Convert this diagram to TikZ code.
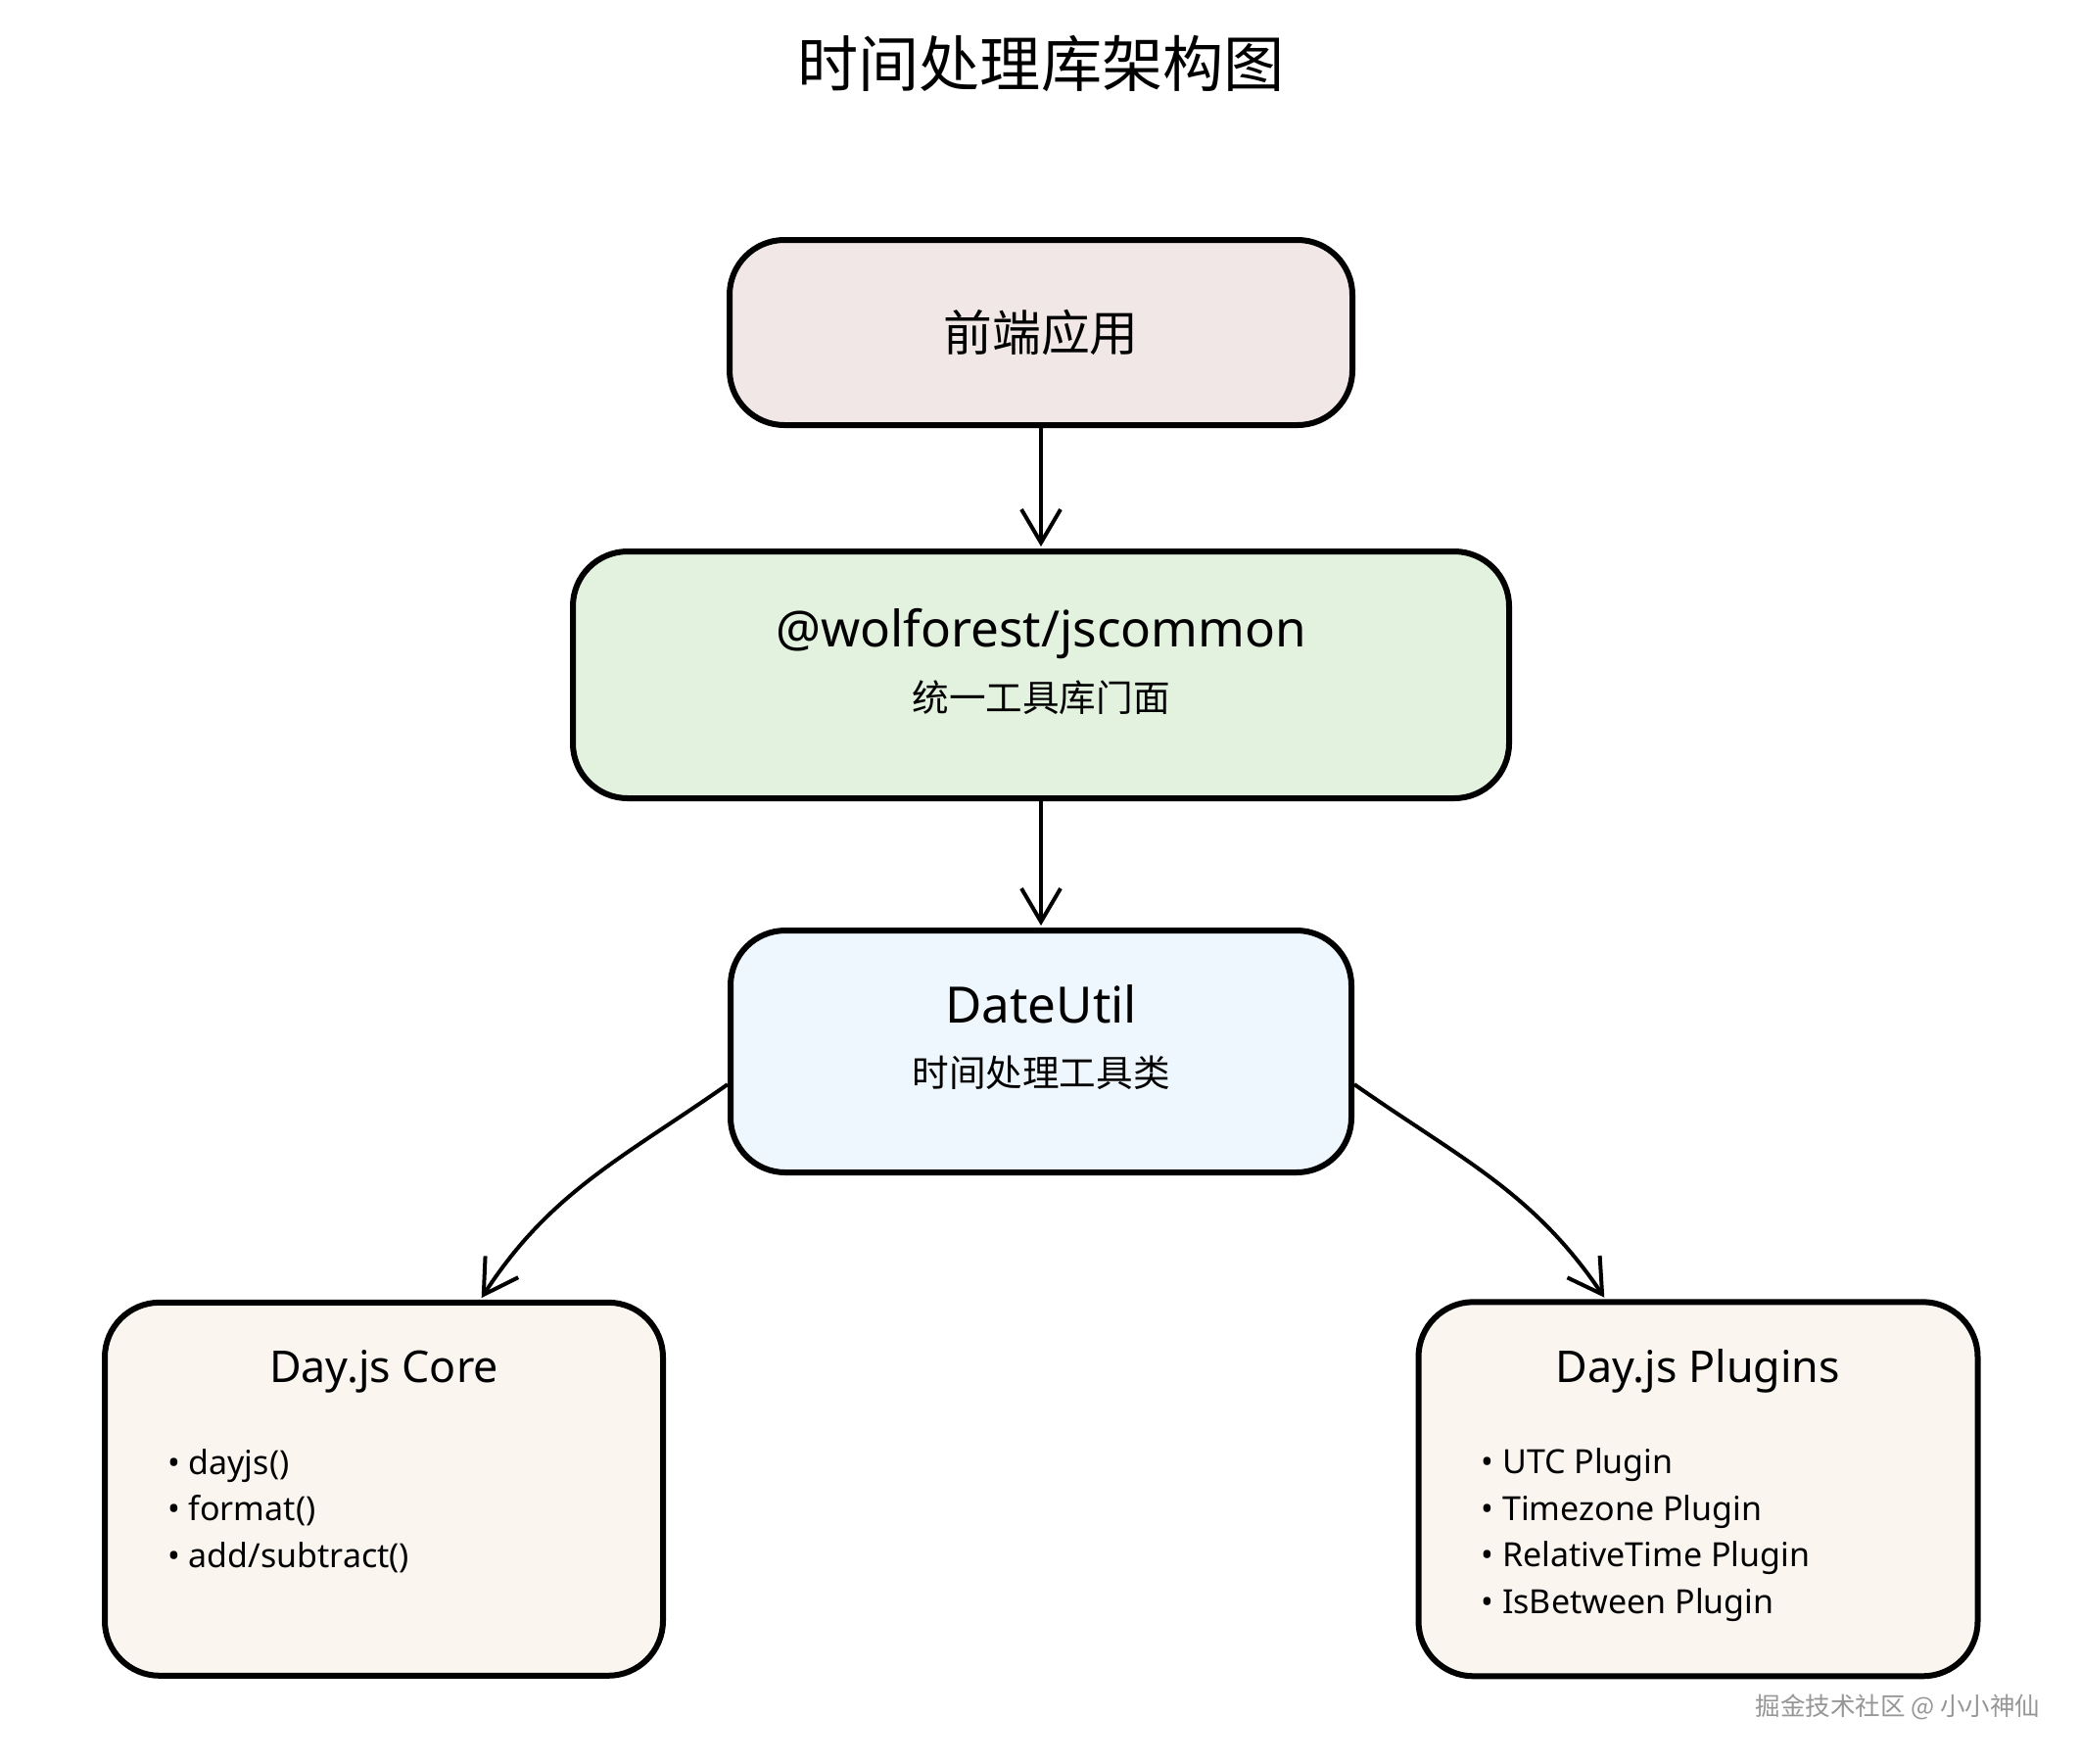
\documentclass[tikz,border=0pt]{standalone}
\usepackage{fontspec}
\setmainfont{Noto Sans}
\newfontfamily\cjk{Noto Sans CJK SC}
\usetikzlibrary{arrows.meta,positioning}

\definecolor{appfill}{RGB}{242,231,231}
\definecolor{facadefill}{RGB}{226,242,222}
\definecolor{utilfill}{RGB}{238,246,254}
\definecolor{libfill}{RGB}{251,245,240}
\definecolor{markgray}{RGB}{150,150,150}

\begin{document}
\begin{tikzpicture}[>={Straight Barb[length=17pt,width=20pt]},shorten >=1pt,
    line width=2pt,on grid,
    box/.style={draw,line width=3pt,rounded corners=28pt,inner sep=0pt},
    head/.style={font=\fontsize{25.6}{30}\selectfont},
    sub/.style={font=\cjk\fontsize{18.8}{22}\selectfont},
    libhead/.style={font=\fontsize{22.4}{26}\selectfont},
    items/.style={font=\fontsize{17}{23.75}\selectfont,align=left,anchor=north west,inner sep=0pt}]
   \useasboundingbox (0pt,0pt) rectangle (1062pt,-900pt);

   \node[box,fill=appfill,minimum width=318pt,minimum height=94.5pt,
         font=\cjk\fontsize{24.9}{28}\selectfont] (frontend) at (531.5pt,-169.75pt) {前端应用};
   \node[font=\cjk\fontsize{31.1}{34}\selectfont] (title) [above=137.25pt of frontend] {时间处理库架构图};

   \node[box,fill=facadefill,minimum width=478pt,minimum height=126pt] (facade) [below=174.75pt of frontend] {};
   \node[head] (facade_name) at ([yshift=-43.5pt]facade.north) {@wolforest/jscommon};
   \node[sub] (facade_note) at ([yshift=-76pt]facade.north) {统一工具库门面};

   \node[box,fill=utilfill,minimum width=317pt,minimum height=123.5pt] (dateutil) [below=192.25pt of facade] {};
   \node[head] (dateutil_name) at ([yshift=-39.2pt]dateutil.north) {DateUtil};
   \node[sub] (dateutil_note) at ([yshift=-74.25pt]dateutil.north) {时间处理工具类};

   \node[box,fill=libfill,minimum width=285pt,minimum height=190.5pt] (core) [below left=223.4pt and 335.5pt of dateutil] {};
   \node[libhead] (core_name) at ([yshift=-36.7pt]core.north) {Day.js Core};
   \node[items] (core_list) at ([xshift=32.5pt,yshift=-75.25pt]core.north west)
     {• dayjs()\\• format()\\• add/subtract()};

   \node[box,fill=libfill,minimum width=285.5pt,minimum height=191pt] (plugins) [below right=223.4pt and 335.5pt of dateutil] {};
   \node[libhead] (plugins_name) at ([yshift=-36.7pt]plugins.north) {Day.js Plugins};
   \node[items] (plugins_list) at ([xshift=32.5pt,yshift=-75.25pt]plugins.north west)
     {• UTC Plugin\\• Timezone Plugin\\• RelativeTime Plugin\\• IsBetween Plugin};

   \path[->]
    (frontend) edge (facade)
    (facade) edge (dateutil)
    (dateutil.186) edge [out=215,in=57] (core.63)
    (dateutil.-6) edge [out=-35,in=124] (plugins.116);

   \node[font=\cjk\fontsize{12.75}{15}\selectfont,text=markgray] (mark) at (969pt,-871.5pt) {掘金技术社区 @ 小小神仙};
\end{tikzpicture}
\end{document}
